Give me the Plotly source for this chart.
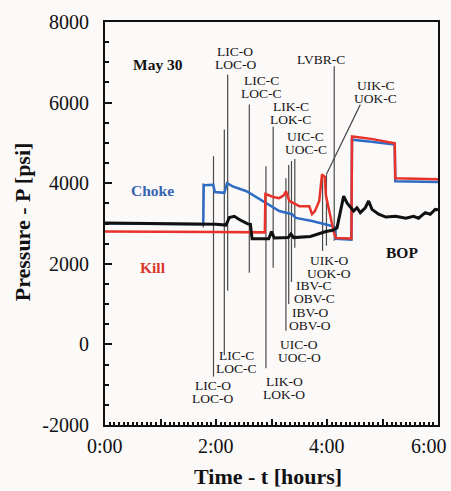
import plotly.graph_objects as go

# ---------------- data (time in hours, pressure in psi) ----------------
choke_t = [0, 1.0, 1.77, 1.78, 1.95, 1.98, 2.15, 2.2, 2.3, 2.55, 2.83, 3.14, 3.37, 3.44, 3.73, 4.09, 4.15, 4.16, 4.44, 4.45, 4.8, 5.22, 5.23, 6.0]
choke_p = [3000, 2990, 2980, 3950, 3960, 3780, 3760, 4000, 3920, 3800, 3560, 3310, 3230, 3140, 3060, 2940, 2900, 2620, 2600, 5080, 5030, 4960, 4050, 4030]

kill_t = [0, 1.0, 2.0, 2.88, 2.89, 2.95, 3.05, 3.14, 3.22, 3.26, 3.32, 3.5, 3.68, 3.73, 3.78, 3.86, 3.91, 3.96, 3.98, 4.12, 4.16, 4.44, 4.45, 4.8, 5.22, 5.23, 6.0]
kill_p = [2800, 2800, 2790, 2780, 3730, 3700, 3650, 3630, 3700, 3800, 3560, 3430, 3430, 3230, 3300, 3560, 4220, 4150, 3700, 2800, 2640, 2630, 5160, 5100, 4990, 4120, 4100]

bop_t = [0, 1.0, 2.0, 2.18, 2.24, 2.33, 2.42, 2.57, 2.62, 2.65, 2.95, 3.0, 3.05, 3.3, 3.35, 3.4, 3.7, 3.98, 4.1, 4.18, 4.25, 4.3, 4.36, 4.43, 4.48, 4.54, 4.6, 4.69, 4.75, 4.81, 4.93, 5.06, 5.24, 5.42, 5.56, 5.65, 5.77, 5.86, 5.95, 6.0]
bop_p = [3010, 3000, 2980, 2960, 3150, 3180, 3100, 2990, 2980, 2620, 2620, 2800, 2640, 2650, 2740, 2650, 2680, 2800, 2830, 2890, 3310, 3680, 3510, 3390, 3310, 3390, 3270, 3390, 3560, 3350, 3230, 3160, 3180, 3130, 3180, 3130, 3270, 3230, 3350, 3340]

# valve events: time, top and bottom of the marker line
event_t = [1.77, 1.955, 2.15, 2.21, 2.6, 2.9, 3.03, 3.26, 3.31, 3.36, 3.42, 3.92, 3.99, 4.13]
event_top = [4000, 4670, 5330, 6700, 5950, 4420, 5400, 4120, 4450, 4550, 4600, 4170, 4220, 6900]
event_bot = [2900, -800, -270, 1330, 1780, -590, 1900, 340, 1000, 1550, 2400, 2320, 2450, 2570]

# leader line from the UIK-C / UOK-C label
leader_t = [4.6, 3.99]
leader_p = [5950, 4220]

# event labels (two lines each)
label_l1 = ["LIC-O", "LVBR-C", "LIC-C", "UIK-C", "LIK-C", "UIC-C", "UIK-O", "IBV-C", "IBV-O", "UIC-O", "LIC-C", "LIK-O", "LIC-O"]
label_l2 = ["LOC-O", "", "LOC-C", "UOK-C", "LOK-C", "UOC-C", "UOK-O", "OBV-C", "OBV-O", "UOC-O", "LOC-C", "LOK-O", "LOC-O"]
label_t = [2.35, 3.89, 2.82, 4.88, 3.35, 3.62, 4.04, 3.77, 3.70, 3.50, 2.37, 3.23, 1.94]
label_p = [7110, 7060, 6395, 6270, 5730, 4990, 1930, 1310, 620, -170, -440, -1090, -1180]

# axis ticks
x_tickvals = [0, 2, 4, 6]
x_ticktext = ["0:00", "2:00", "4:00", "6:00"]
y_tickvals = [-2000, 0, 2000, 4000, 6000, 8000]
y_ticktext = ["-2000", "0", "2000", "4000", "6000", "8000"]

# ---------------- figure ----------------
SERIF = "Liberation Serif, Times New Roman, serif"
INK = "#111111"
fig = go.Figure()

ev_x, ev_y = [], []
for t, a, b in zip(event_t, event_top, event_bot):
    ev_x += [t, t, None]
    ev_y += [a, b, None]
ev_x += leader_t + [None]
ev_y += leader_p + [None]
fig.add_trace(go.Scatter(x=ev_x, y=ev_y, mode="lines",
                         line=dict(color="#4a4a4a", width=1.2), hoverinfo="skip"))

fig.add_trace(go.Scatter(x=choke_t, y=choke_p, mode="lines", name="Choke",
                         line=dict(color="#2f6cc4", width=2.5)))
fig.add_trace(go.Scatter(x=kill_t, y=kill_p, mode="lines", name="Kill",
                         line=dict(color="#e8322a", width=2.5)))
fig.add_trace(go.Scatter(x=bop_t, y=bop_p, mode="lines", name="BOP",
                         line=dict(color=INK, width=3)))

lab_font = dict(family=SERIF, size=13.5, color="#151515")
anns = []
for l1, l2, t, p in zip(label_l1, label_l2, label_t, label_p):
    if l2:
        anns.append(dict(x=t, y=p, text=l1, yshift=6.5, showarrow=False, font=lab_font))
        anns.append(dict(x=t, y=p, text=l2, yshift=-6.5, showarrow=False, font=lab_font))
    else:
        anns.append(dict(x=t, y=p, text=l1, showarrow=False, font=lab_font))

# x tick labels (drawn as text so the last one is not dropped at the edge)
for v, s in zip(x_tickvals, x_ticktext):
    a = dict(x=v, xref="x", y=-0.052, yref="paper", text=s, showarrow=False,
             yanchor="middle", font=dict(family=SERIF, size=20, color=INK))
    if v == x_tickvals[-1]:
        a.update(xanchor="right", xshift=11)
    else:
        a.update(xanchor="center")
    anns.append(a)

anns += [
    dict(x=0.95, y=6940, text="<b>May 30</b>", showarrow=False,
         font=dict(family=SERIF, size=15.5, color=INK)),
    dict(x=0.86, y=3830, text="<b>Choke</b>", showarrow=False,
         font=dict(family=SERIF, size=15.5, color="#3563b0")),
    dict(x=0.86, y=1900, text="<b>Kill</b>", showarrow=False,
         font=dict(family=SERIF, size=15.5, color="#d8382c")),
    dict(x=5.35, y=2270, text="<b>BOP</b>", showarrow=False,
         font=dict(family=SERIF, size=15.5, color=INK)),
    dict(xref="paper", yref="paper", x=0.49, y=-0.128, xanchor="center", yanchor="middle",
         text="<b>Time - t [hours]</b>",
         showarrow=False, font=dict(family=SERIF, size=22, color=INK)),
    dict(xref="paper", yref="paper", x=-0.248, y=0.504, xanchor="center", yanchor="middle",
         text="<b>Pressure - P [psi]</b>",
         textangle=-90, showarrow=False, font=dict(family=SERIF, size=22, color=INK)),
]

fig.update_layout(
    width=451, height=491,
    margin=dict(l=105, r=11, t=20, b=66),
    paper_bgcolor="#fcf9f9", plot_bgcolor="#fcf9f9",
    showlegend=False,
    annotations=anns,
    font=dict(family=SERIF, size=20, color=INK),
)
fig.update_xaxes(range=[0, 6], tickmode="linear", tick0=0, dtick=1, showticklabels=False,
                 ticks="inside", ticklen=6, tickwidth=1.5, tickcolor=INK,
                 minor=dict(dtick=1/12, tick0=0, ticks="inside", ticklen=3, tickcolor=INK),
                 showline=True, linewidth=2, linecolor=INK, mirror=True,
                 showgrid=False, zeroline=False)
fig.update_yaxes(range=[-2000, 8000], tickmode="array", tickvals=y_tickvals, ticktext=y_ticktext,
                 ticks="inside", ticklen=7, tickwidth=1.5, tickcolor=INK,
                 minor=dict(dtick=500, tick0=0, ticks="inside", ticklen=4, tickcolor=INK),
                 showline=True, linewidth=2, linecolor=INK, mirror=True,
                 showgrid=False, zeroline=False, ticklabelstandoff=10,
                 tickfont=dict(family=SERIF, size=20, color=INK))

fig.write_html("out.html")
